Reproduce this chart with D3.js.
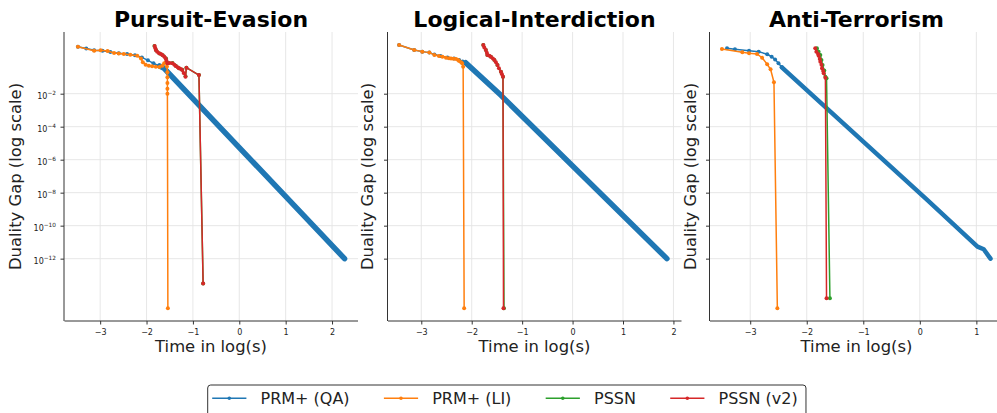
<!DOCTYPE html>
<html>
<head>
<meta charset="utf-8">
<script src="https://cdn.jsdelivr.net/npm/d3@7"></script>
<style>
  body { margin: 0; background: #fff; }
  svg { font-family: "DejaVu Sans", sans-serif; }
  .grid line { stroke: #e4e4e4; stroke-width: 0.9; }
  .axis path, .axis line { stroke: #333; stroke-width: 1; }
  .axis text { fill: #222; font-size: 8px; font-family: "DejaVu Sans", sans-serif; }
</style>
</head>
<body>
<div id="chart"></div>
<script>
`use strict`;

const panelTitles = ['Pursuit-Evasion', 'Logical-Interdiction', 'Anti-Terrorism'];
const seriesNames = ['PRM+ (QA)', 'PRM+ (LI)', 'PSSN', 'PSSN (v2)'];
const seriesColors = ['#1f77b4', '#ff7f0e', '#2ca02c', '#d62728'];
const xTickValues = [[-3, -2, -1, 0, 1, 2], [-3, -2, -1, 0, 1, 2], [-3, -2, -1, 0, 1]];
const yTickExps = [-2, -4, -6, -8, -10, -12];

// every point is [log10 time, log10 duality gap]
// Pursuit-Evasion
const peQA = [[-3.48, 0.85], [-3.30, 0.74], [-3.13, 0.63], [-2.95, 0.60], [-2.78, 0.52], [-2.60, 0.45], [-2.42, 0.40],
  [-2.25, 0.33], [-2.10, 0.20], [-1.97, 0.02], [-1.85, -0.16], [-1.72, -0.32]];
const peQAdense = [[-1.72, -0.32], [-1.62, -0.46], [2.27, -12.0]];
const peLI = [[-3.48, 0.85], [-3.13, 0.60], [-2.99, 0.64], [-2.84, 0.59], [-2.70, 0.47], [-2.60, 0.44], [-2.49, 0.40],
  [-2.35, 0.36], [-2.20, 0.30], [-2.12, 0.14], [-2.08, -0.10], [-2.02, -0.24], [-1.95, -0.30], [-1.88, -0.33],
  [-1.80, -0.36], [-1.72, -0.38], [-1.66, -0.30], [-1.62, -0.16], [-1.58, -0.08], [-1.56, -0.35], [-1.55, -0.70],
  [-1.55, -1.00], [-1.55, -1.35], [-1.55, -1.70], [-1.55, -2.00], [-1.54, -15.0]];
const pePSSN = [[-1.83, 0.89], [-1.79, 0.62], [-1.72, 0.44], [-1.65, 0.33], [-1.58, 0.13], [-1.54, -0.14],
  [-1.44, -0.14], [-1.37, -0.30], [-1.30, -0.45], [-1.23, -0.55], [-1.16, -0.95], [-1.14, -0.42], [-0.87, -0.87],
  [-0.78, -13.5]];
const pePSSNv2 = [[-1.825, 0.89], [-1.81, 0.75], [-1.80, 0.65], [-1.77, 0.55], [-1.73, 0.45], [-1.69, 0.40],
  [-1.66, 0.35], [-1.62, 0.25], [-1.59, 0.15], [-1.57, 0.0], [-1.55, -0.16], [-1.50, -0.14], [-1.44, -0.16],
  [-1.40, -0.25], [-1.37, -0.32], [-1.33, -0.40], [-1.30, -0.46], [-1.26, -0.50], [-1.23, -0.56], [-1.20, -0.75],
  [-1.16, -0.97], [-1.14, -0.42], [-0.87, -0.87], [-0.78, -13.5]];

// Logical-Interdiction
const liQA = [[-3.44, 0.95], [-3.14, 0.65], [-2.98, 0.55], [-2.84, 0.49], [-2.74, 0.37], [-2.62, 0.29], [-2.48, 0.19],
  [-2.35, 0.13], [-2.25, 0.05], [-2.18, -0.05], [-2.12, -0.12]];
const liQAdense = [[-2.12, -0.12], [-1.42, -2.1], [1.87, -12.0]];
const liLI = [[-3.44, 0.95], [-3.14, 0.65], [-2.98, 0.55], [-2.84, 0.49], [-2.74, 0.35], [-2.65, 0.28], [-2.58, 0.24],
  [-2.51, 0.18], [-2.45, 0.15], [-2.41, 0.14], [-2.36, 0.12], [-2.31, 0.10], [-2.27, 0.04], [-2.25, -0.02],
  [-2.21, -0.10], [-2.19, -0.16], [-2.17, -0.36], [-2.15, -15.0]];
const liPSSN = [[-1.77, 0.95], [-1.72, 0.65], [-1.69, 0.35], [-1.62, 0.24], [-1.55, 0.04], [-1.49, -0.26],
  [-1.42, -0.67], [-1.38, -0.97], [-1.36, -15.0]];
const liPSSNv2 = [[-1.77, 0.95], [-1.75, 0.80], [-1.72, 0.65], [-1.70, 0.48], [-1.69, 0.35], [-1.65, 0.30],
  [-1.62, 0.24], [-1.58, 0.14], [-1.55, 0.04], [-1.52, -0.10], [-1.49, -0.26], [-1.46, -0.45], [-1.42, -0.67],
  [-1.40, -0.82], [-1.38, -0.97], [-1.37, -15.0]];

// Anti-Terrorism
const atQA = [[-3.41, 0.75], [-3.27, 0.69], [-3.02, 0.61], [-2.85, 0.55], [-2.70, 0.39], [-2.62, 0.24], [-2.56, 0.08],
  [-2.50, -0.15], [-2.44, -0.40]];
const atQAdense = [[-2.44, -0.40], [0.13, -8.44], [1.02, -11.27], [1.13, -11.43], [1.25, -12.0]];
const atLI = [[-3.50, 0.71], [-3.14, 0.51], [-3.02, 0.45], [-2.88, 0.41], [-2.79, 0.18], [-2.70, -0.22],
  [-2.64, -0.52], [-2.58, -1.31], [-2.52, -15.0]];
const atPSSN = [[-1.82, 0.75], [-1.79, 0.55], [-1.76, 0.35], [-1.74, 0.05], [-1.72, -0.26], [-1.69, -0.60],
  [-1.67, -0.97], [-1.65, -1.06], [-1.59, -14.4]];
const atPSSNv2 = [[-1.85, 0.75], [-1.83, 0.55], [-1.80, 0.40], [-1.79, 0.30], [-1.77, 0.10], [-1.76, -0.06],
  [-1.74, -0.25], [-1.73, -0.46], [-1.71, -0.62], [-1.70, -0.76], [-1.67, -1.03], [-1.65, -14.4]];

const panelSeries = [
  { dense: peQAdense, series: [peQA, peLI, pePSSN, pePSSNv2] },
  { dense: liQAdense, series: [liQA, liLI, liPSSN, liPSSNv2] },
  { dense: atQAdense, series: [atQA, atLI, atPSSN, atPSSNv2] }
];

let w = 997, h = 413;
let axLefts = [64, 387.5, 709.5];
let axTop = 32, axW = 294, axH = 289;
let xDomains = [[-3.78, 2.56], [-3.67, 2.16], [-3.72, 1.48]];
let yLabelOffsets = [-43, -14.5, -14];

let svg = d3.select('#chart').append('svg')
  .attr('width', w).attr('height', h).attr('viewBox', `0 0 ${w} ${h}`);

let y = d3.scaleLog().domain([Math.pow(10, -15.78), Math.pow(10, 1.74)]).range([axH, 0]);
let yTicks = yTickExps.map((e) => Math.pow(10, e));

panelTitles.forEach((title, i) => {
  let x = d3.scaleLinear().domain(xDomains[i]).range([0, axW]);
  let g = svg.append('g').attr('transform', `translate(${axLefts[i]},${axTop})`);

  //grid
  let grid = g.append('g').classed('grid', true);
  grid.selectAll('.gx').data(xTickValues[i]).enter().append('line')
    .attr('x1', (d) => x(d)).attr('x2', (d) => x(d)).attr('y1', 0).attr('y2', axH);
  grid.selectAll('.gy').data(yTicks).enter().append('line')
    .attr('x1', 0).attr('x2', axW).attr('y1', (d) => y(d)).attr('y2', (d) => y(d));

  let line = d3.line().x((d) => x(d[0])).y((d) => y(Math.pow(10, d[1])));

  //dense part of PRM+ (QA), drawn as a thick band
  g.append('path').datum(panelSeries[i].dense)
    .attr('d', line).attr('fill', 'none')
    .attr('stroke', seriesColors[0]).attr('stroke-width', i === 2 ? 4.5 : 5.5)
    .attr('stroke-linecap', 'round').attr('stroke-linejoin', 'round');

  panelSeries[i].series.forEach((pts, s) => {
    let sg = g.append('g');
    sg.append('path').datum(pts)
      .attr('d', line).attr('fill', 'none')
      .attr('stroke', seriesColors[s]).attr('stroke-width', 1.5)
      .attr('stroke-linejoin', 'round');
    sg.selectAll('circle').data(pts).enter().append('circle')
      .attr('cx', (d) => x(d[0])).attr('cy', (d) => y(Math.pow(10, d[1])))
      .attr('r', 2).attr('fill', seriesColors[s]);
  });

  //axes
  let xAxis = d3.axisBottom(x).tickValues(xTickValues[i]).tickSize(3.5).tickPadding(3)
    .tickFormat(d3.format('d'));
  let xg = g.append('g').classed('axis', true).attr('transform', `translate(0,${axH})`).call(xAxis);
  xg.select('.domain').attr('d', `M0.5,0H${axW}`);
  xg.selectAll('text').attr('y', 13.5).attr('dy', null);

  let yAxis = d3.axisLeft(y).tickValues(yTicks).tickSize(3.5).tickPadding(4.5).tickFormat(() => '');
  let yg = g.append('g').classed('axis', true).call(yAxis);
  yg.select('.domain').attr('d', `M0,0V${axH}`);
  if (i === 0) {
    yg.selectAll('.tick text').each(function(d, k) {
      let t = d3.select(this).attr('dy', null).attr('y', 5);
      t.append('tspan').text('10');
      t.append('tspan').attr('font-size', '5.8px').attr('dy', -4.2)
        .text('\u2212' + Math.abs(yTickExps[k]));
    });
  }

  //labels
  g.append('text').text(title)
    .attr('x', axW / 2).attr('y', -5).attr('text-anchor', 'middle')
    .attr('font-size', '22px').attr('font-weight', 'bold').attr('fill', '#000');
  g.append('text').text('Time in log(s)')
    .attr('x', axW / 2).attr('y', axH + 31).attr('text-anchor', 'middle')
    .attr('font-size', '16.4px').attr('fill', '#222');
  g.append('text').text('Duality Gap (log scale)')
    .attr('transform', 'rotate(-90)')
    .attr('x', -axH / 2).attr('y', yLabelOffsets[i]).attr('text-anchor', 'middle')
    .attr('font-size', '16.4px').attr('fill', '#222');
});

//legend
let legend = svg.append('g').attr('transform', 'translate(207.7,385)');
let box = legend.append('rect').attr('x', 0).attr('y', 0).attr('rx', 3).attr('ry', 3)
  .attr('height', 40).attr('fill', '#fff').attr('stroke', '#333').attr('stroke-width', 1);
let lx = 4.5;
seriesNames.forEach((name, s) => {
  legend.append('line').attr('x1', lx).attr('x2', lx + 34.2).attr('y1', 13.3).attr('y2', 13.3)
    .attr('stroke', seriesColors[s]).attr('stroke-width', 1.5);
  legend.append('circle').attr('cx', lx + 17.1).attr('cy', 13.3).attr('r', 1.8).attr('fill', seriesColors[s]);
  let t = legend.append('text').text(name).attr('x', lx + 48.3).attr('y', 19.3)
    .attr('font-size', '16px').attr('fill', '#222');
  lx += 48.3 + t.node().getComputedTextLength() + 34.3;
});
box.attr('width', lx - 34.3 + 8.3);
</script>
</body>
</html>
